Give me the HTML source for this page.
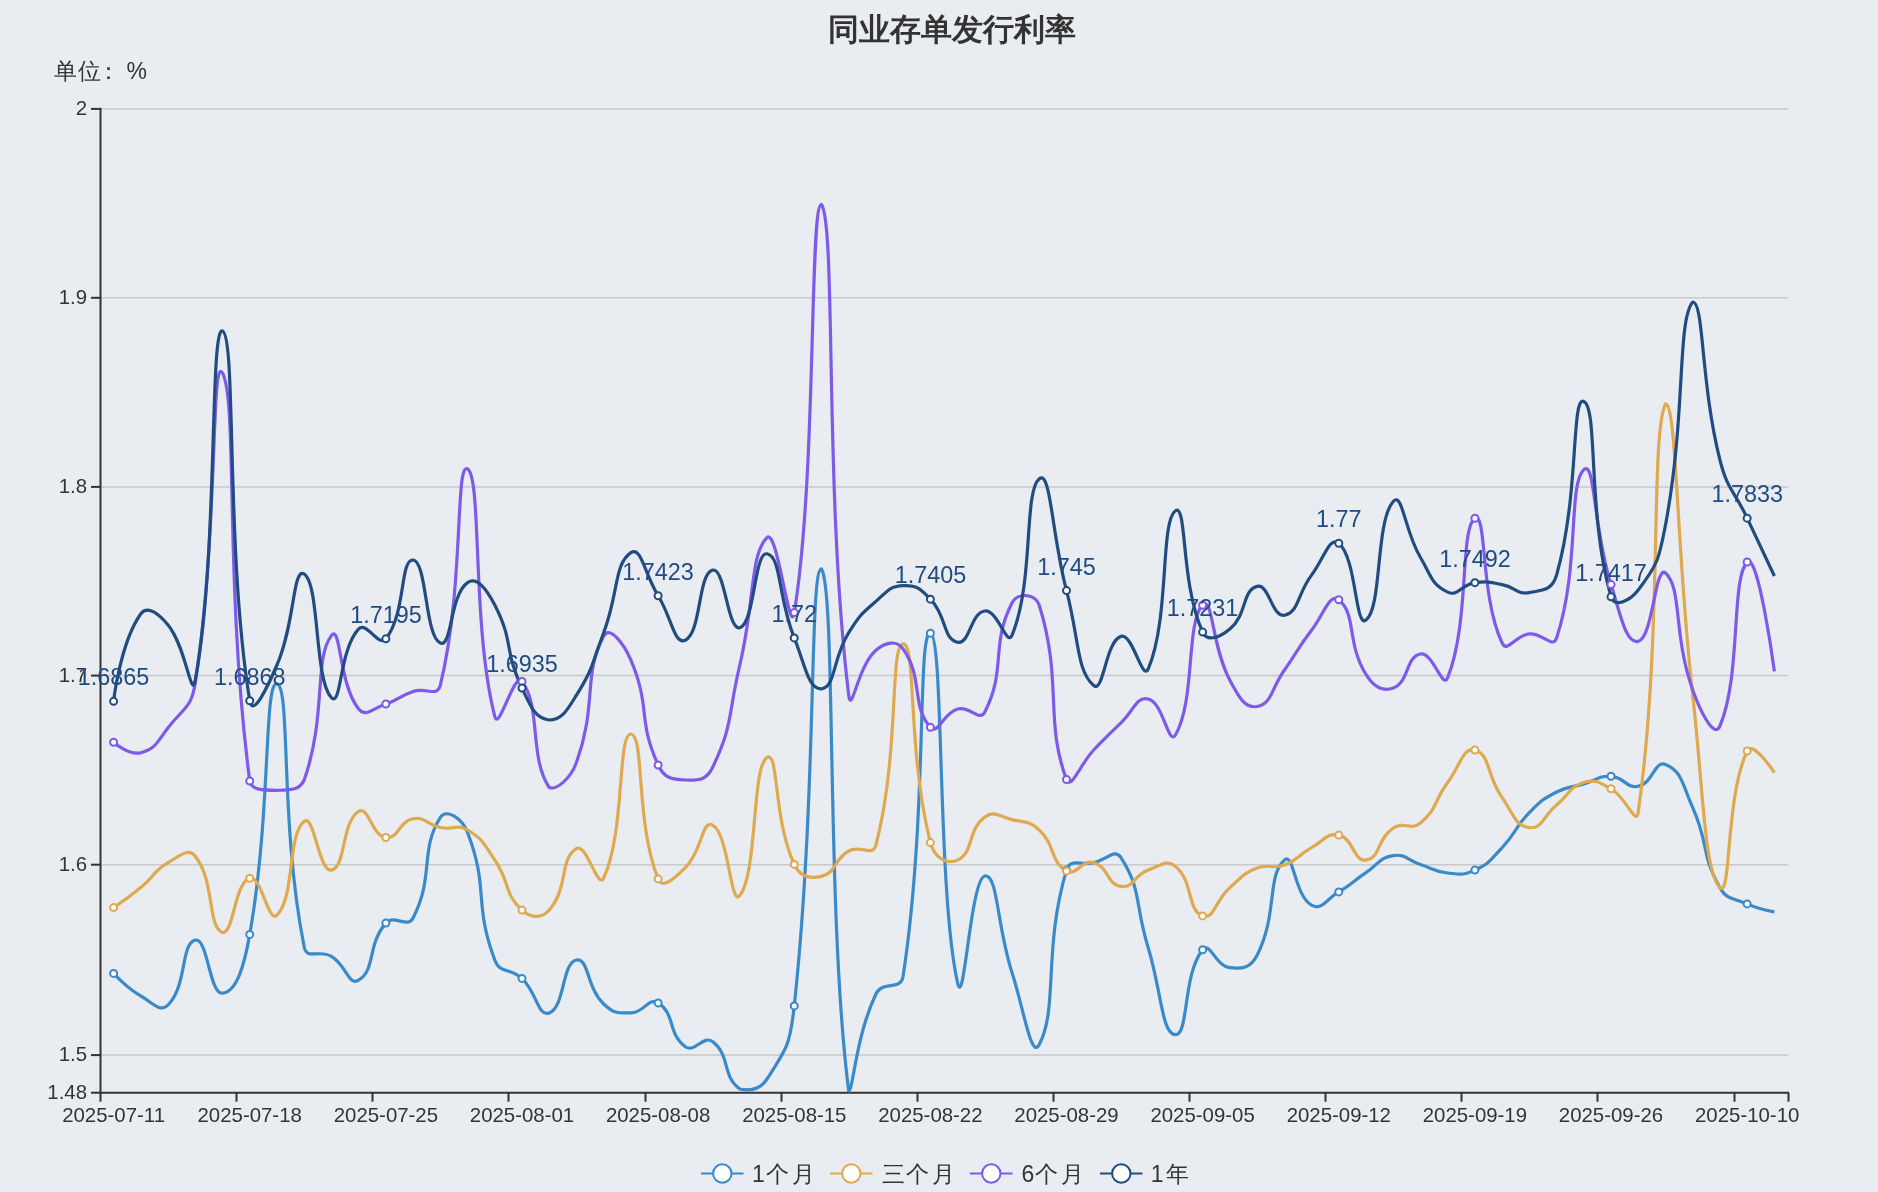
<!DOCTYPE html>
<html><head><meta charset="utf-8"><style>
html,body{margin:0;padding:0;background:#e9ecf1;width:1878px;height:1192px;overflow:hidden}
svg{display:block;will-change:transform;font-family:"Liberation Sans",sans-serif}
.ax{font-size:20.4px;fill:#333}
.lb{font-size:23.4px;fill:#214c80}
.lg{font-size:23px;fill:#333}
.tt{font-size:31px;font-weight:bold;fill:#333}
.un{font-size:23px;fill:#333}
</style></head><body>
<svg width="1878" height="1192" viewBox="0 0 1878 1192">
<text x="952" y="40" text-anchor="middle" class="tt">同业存单发行利率</text>
<text x="54 78 97 126.5" y="79" class="un">单位：%</text>
<line x1="100" y1="108.9" x2="1788" y2="108.9" stroke="#c9c9c9" stroke-width="1.5"/>
<line x1="100" y1="297.8" x2="1788" y2="297.8" stroke="#c9c9c9" stroke-width="1.5"/>
<line x1="100" y1="486.9" x2="1788" y2="486.9" stroke="#c9c9c9" stroke-width="1.5"/>
<line x1="100" y1="675.6" x2="1788" y2="675.6" stroke="#c9c9c9" stroke-width="1.5"/>
<line x1="100" y1="864.7" x2="1788" y2="864.7" stroke="#c9c9c9" stroke-width="1.5"/>
<line x1="100" y1="1055.1" x2="1788" y2="1055.1" stroke="#c9c9c9" stroke-width="1.5"/>
<line x1="91" y1="108.9" x2="100" y2="108.9" stroke="#333333" stroke-width="2"/>
<text x="87" y="114.9" text-anchor="end" class="ax">2</text>
<line x1="91" y1="297.8" x2="100" y2="297.8" stroke="#333333" stroke-width="2"/>
<text x="87" y="303.8" text-anchor="end" class="ax">1.9</text>
<line x1="91" y1="486.9" x2="100" y2="486.9" stroke="#333333" stroke-width="2"/>
<text x="87" y="492.9" text-anchor="end" class="ax">1.8</text>
<line x1="91" y1="675.6" x2="100" y2="675.6" stroke="#333333" stroke-width="2"/>
<text x="87" y="681.6" text-anchor="end" class="ax">1.7</text>
<line x1="91" y1="864.7" x2="100" y2="864.7" stroke="#333333" stroke-width="2"/>
<text x="87" y="870.7" text-anchor="end" class="ax">1.6</text>
<line x1="91" y1="1055.1" x2="100" y2="1055.1" stroke="#333333" stroke-width="2"/>
<text x="87" y="1061.1" text-anchor="end" class="ax">1.5</text>
<line x1="91" y1="1092.7" x2="100" y2="1092.7" stroke="#333333" stroke-width="2"/>
<text x="87" y="1098.7" text-anchor="end" class="ax">1.48</text>
<line x1="100.5" y1="107.8" x2="100.5" y2="1093.7" stroke="#333333" stroke-width="2"/>
<line x1="100" y1="1092.7" x2="1789" y2="1092.7" stroke="#333333" stroke-width="2"/>
<line x1="100.5" y1="1092.7" x2="100.5" y2="1101.7" stroke="#333333" stroke-width="2"/>
<text x="113.6" y="1122" text-anchor="middle" class="ax">2025-07-11</text>
<line x1="236.5" y1="1092.7" x2="236.5" y2="1101.7" stroke="#333333" stroke-width="2"/>
<text x="249.7" y="1122" text-anchor="middle" class="ax">2025-07-18</text>
<line x1="372.5" y1="1092.7" x2="372.5" y2="1101.7" stroke="#333333" stroke-width="2"/>
<text x="385.9" y="1122" text-anchor="middle" class="ax">2025-07-25</text>
<line x1="508.5" y1="1092.7" x2="508.5" y2="1101.7" stroke="#333333" stroke-width="2"/>
<text x="522.0" y="1122" text-anchor="middle" class="ax">2025-08-01</text>
<line x1="645.5" y1="1092.7" x2="645.5" y2="1101.7" stroke="#333333" stroke-width="2"/>
<text x="658.1" y="1122" text-anchor="middle" class="ax">2025-08-08</text>
<line x1="781.5" y1="1092.7" x2="781.5" y2="1101.7" stroke="#333333" stroke-width="2"/>
<text x="794.3" y="1122" text-anchor="middle" class="ax">2025-08-15</text>
<line x1="917.5" y1="1092.7" x2="917.5" y2="1101.7" stroke="#333333" stroke-width="2"/>
<text x="930.4" y="1122" text-anchor="middle" class="ax">2025-08-22</text>
<line x1="1053.5" y1="1092.7" x2="1053.5" y2="1101.7" stroke="#333333" stroke-width="2"/>
<text x="1066.5" y="1122" text-anchor="middle" class="ax">2025-08-29</text>
<line x1="1189.5" y1="1092.7" x2="1189.5" y2="1101.7" stroke="#333333" stroke-width="2"/>
<text x="1202.6" y="1122" text-anchor="middle" class="ax">2025-09-05</text>
<line x1="1325.5" y1="1092.7" x2="1325.5" y2="1101.7" stroke="#333333" stroke-width="2"/>
<text x="1338.8" y="1122" text-anchor="middle" class="ax">2025-09-12</text>
<line x1="1461.5" y1="1092.7" x2="1461.5" y2="1101.7" stroke="#333333" stroke-width="2"/>
<text x="1474.9" y="1122" text-anchor="middle" class="ax">2025-09-19</text>
<line x1="1597.5" y1="1092.7" x2="1597.5" y2="1101.7" stroke="#333333" stroke-width="2"/>
<text x="1611.0" y="1122" text-anchor="middle" class="ax">2025-09-26</text>
<line x1="1734.5" y1="1092.7" x2="1734.5" y2="1101.7" stroke="#333333" stroke-width="2"/>
<text x="1747.2" y="1122" text-anchor="middle" class="ax">2025-10-10</text>
<line x1="1788.5" y1="1092.7" x2="1788.5" y2="1101.7" stroke="#333333" stroke-width="2"/>
<path d="M113.61,973.40 C113.61,973.40 125.80,987.27 140.84,996.00 C153.03,1003.07 160.18,1013.09 168.06,1005.00 C187.41,985.14 180.56,943.29 195.29,940.10 C207.78,937.39 209.46,994.57 222.52,993.20 C236.69,991.72 244.17,966.03 249.74,934.40 C271.40,811.38 263.69,680.83 276.97,683.90 C290.91,687.13 279.64,824.13 304.19,947.00 C306.87,960.38 319.35,949.04 331.42,956.40 C346.57,965.64 348.74,986.26 358.65,980.20 C375.97,969.61 366.94,944.73 385.87,923.10 C394.16,913.63 407.38,929.09 413.10,918.00 C434.60,876.29 419.36,850.42 440.32,817.50 C446.58,807.67 462.31,818.78 467.55,832.50 C489.53,890.03 473.03,901.74 494.77,960.00 C500.25,974.69 510.36,967.07 522.00,978.40 C537.59,993.57 537.66,1016.91 549.23,1013.00 C564.88,1007.71 561.88,962.41 576.45,960.00 C589.11,957.91 586.15,986.97 603.68,1004.00 C613.38,1013.42 617.38,1013.17 630.90,1012.90 C644.60,1012.62 648.33,996.82 658.13,1002.90 C675.55,1013.72 667.64,1034.11 685.35,1046.70 C694.87,1053.46 703.42,1034.49 712.58,1041.60 C730.65,1055.64 722.02,1076.78 739.81,1089.00 C749.24,1091.00 759.65,1090.26 767.03,1079.00 C786.88,1048.71 790.14,1044.47 794.26,1005.90 C817.37,789.37 809.07,568.80 821.48,568.80 C836.30,591.96 825.88,912.74 848.71,1091.00 C853.11,1091.00 855.37,1037.43 875.94,994.00 C882.60,979.93 900.80,991.64 903.16,976.00 C928.03,811.24 916.91,631.47 930.39,633.20 C944.14,634.97 936.90,890.66 957.61,983.00 C964.13,1012.06 970.58,878.70 984.84,876.00 C997.81,873.55 996.63,924.95 1012.06,972.70 C1023.86,1009.20 1031.04,1060.05 1039.29,1044.50 C1058.26,1008.75 1043.05,948.51 1066.52,870.10 C1070.27,857.56 1079.99,865.76 1093.74,862.60 C1107.22,859.51 1114.78,847.93 1120.97,857.60 C1142.01,890.48 1134.36,902.72 1148.19,947.70 C1161.59,991.27 1161.66,1034.19 1175.42,1034.70 C1188.89,1035.19 1182.71,974.23 1202.65,949.70 C1209.94,940.73 1215.68,966.27 1229.87,967.70 C1242.90,969.02 1250.77,967.71 1257.10,955.20 C1277.99,913.91 1266.56,876.41 1284.32,860.10 C1293.78,851.41 1294.26,895.11 1311.55,905.20 C1321.49,911.01 1325.82,899.66 1338.77,891.90 C1353.04,883.36 1352.12,881.85 1366.00,872.60 C1379.35,863.70 1378.84,857.74 1393.23,855.60 C1406.06,853.69 1406.81,860.14 1420.45,864.50 C1434.04,868.84 1433.79,871.57 1447.68,873.00 C1461.01,874.37 1463.01,875.65 1474.90,870.10 C1490.24,862.95 1490.06,860.35 1502.13,847.60 C1517.28,831.60 1513.97,828.31 1529.35,812.60 C1541.20,800.51 1541.71,799.81 1556.58,792.00 C1568.94,785.51 1570.17,787.93 1583.81,784.00 C1597.40,780.08 1597.59,775.73 1611.03,776.30 C1624.81,776.88 1625.90,788.98 1638.26,786.30 C1653.12,783.08 1654.42,760.17 1665.48,764.50 C1681.65,770.82 1682.47,784.44 1692.71,807.60 C1709.69,845.99 1700.14,852.59 1719.94,887.60 C1727.37,900.74 1732.79,897.49 1747.16,903.90 C1760.01,909.64 1774.39,911.90 1774.39,911.90" fill="none" stroke="#3a89c9" stroke-width="3.2" stroke-linejoin="round"/>
<path d="M113.61,907.60 C113.61,907.60 127.84,898.34 140.84,887.60 C155.06,875.84 152.56,871.51 168.06,862.60 C179.79,855.86 188.31,847.32 195.29,856.30 C215.53,882.32 206.96,926.31 222.52,932.60 C234.18,932.60 234.22,883.29 249.74,878.30 C261.44,874.54 268.28,924.19 276.97,915.10 C295.51,895.69 286.88,835.61 304.19,821.30 C314.10,813.11 318.81,872.42 331.42,870.10 C346.04,867.42 341.45,821.60 358.65,811.30 C368.67,805.30 371.34,835.50 385.87,837.50 C398.57,839.25 398.50,821.48 413.10,818.80 C425.73,816.48 426.41,824.64 440.32,827.50 C453.63,830.24 456.58,823.45 467.55,830.00 C483.80,839.70 483.47,843.36 494.77,860.00 C510.69,883.41 503.57,893.18 522.00,910.10 C530.80,918.18 541.37,918.87 549.23,910.00 C568.60,888.12 559.40,858.62 576.45,848.60 C586.62,842.62 597.83,890.30 603.68,878.00 C625.06,833.00 617.33,733.78 630.90,734.00 C644.56,734.23 635.44,823.23 658.13,878.90 C662.67,890.03 675.32,877.52 685.35,867.60 C702.54,850.62 701.68,819.49 712.58,825.10 C728.90,833.49 730.30,907.41 739.81,895.60 C757.52,873.61 751.77,766.25 767.03,757.50 C778.99,750.65 772.82,817.58 794.26,864.40 C800.04,877.03 809.39,879.38 821.48,876.40 C836.62,872.68 833.14,859.98 848.71,851.00 C860.37,844.28 872.65,857.51 875.94,845.00 C899.87,753.96 889.47,644.50 903.16,643.90 C916.69,643.30 906.94,749.52 930.39,842.60 C934.17,857.62 947.04,865.07 957.61,860.10 C974.27,852.27 967.12,830.18 984.84,817.00 C994.35,809.93 998.89,816.43 1012.06,819.60 C1026.12,822.98 1029.13,820.53 1039.29,830.10 C1056.36,846.18 1049.29,860.62 1066.52,870.90 C1076.51,876.87 1081.75,859.19 1093.74,862.60 C1108.98,866.94 1106.47,884.40 1120.97,886.40 C1133.69,888.15 1133.60,875.46 1148.19,870.10 C1160.83,865.46 1166.51,858.91 1175.42,866.40 C1193.74,881.81 1186.58,909.65 1202.65,915.90 C1213.81,920.25 1215.18,900.50 1229.87,887.60 C1242.40,876.60 1242.12,874.29 1257.10,868.10 C1269.35,863.04 1271.84,869.80 1284.32,865.10 C1299.07,859.55 1297.41,855.39 1311.55,847.60 C1324.64,840.39 1326.59,832.30 1338.77,835.10 C1353.81,838.55 1353.27,861.76 1366.00,860.10 C1380.50,858.21 1376.80,839.19 1393.23,828.00 C1404.03,820.64 1410.60,831.23 1420.45,823.00 C1437.82,808.48 1433.11,802.03 1447.68,782.50 C1460.33,765.53 1463.03,746.71 1474.90,750.00 C1490.26,754.26 1486.47,775.29 1502.13,797.60 C1513.70,814.09 1514.81,825.60 1529.35,827.60 C1542.04,829.35 1542.98,816.36 1556.58,805.10 C1570.21,793.81 1568.59,787.05 1583.81,782.50 C1595.82,778.90 1599.09,782.33 1611.03,788.80 C1626.32,797.08 1636.07,827.48 1638.26,812.00 C1663.29,635.03 1649.61,437.95 1665.48,403.90 C1676.84,403.90 1676.35,549.87 1692.71,695.20 C1703.58,791.72 1704.08,871.35 1719.94,887.60 C1731.30,899.25 1725.37,797.02 1747.16,751.00 C1752.60,739.52 1774.39,772.60 1774.39,772.60" fill="none" stroke="#dfa94f" stroke-width="3.2" stroke-linejoin="round"/>
<path d="M113.61,742.20 C113.61,742.20 128.83,755.90 140.84,752.70 C156.05,748.65 156.83,742.15 168.06,727.70 C184.05,707.15 191.35,708.36 195.29,682.70 C218.58,531.01 210.76,351.77 222.52,373.00 C237.98,400.92 224.31,586.07 249.74,781.00 C251.53,790.30 263.43,790.30 276.97,790.30 C290.66,790.05 299.69,790.30 304.19,780.00 C326.92,715.44 313.66,658.76 331.42,635.60 C340.88,623.26 338.53,683.73 358.65,709.00 C365.76,717.93 372.81,708.22 385.87,704.00 C400.03,699.42 399.00,696.27 413.10,691.40 C426.22,686.87 437.23,697.83 440.32,685.20 C464.46,586.63 454.84,461.72 467.55,469.00 C482.06,477.32 471.67,626.26 494.77,716.40 C498.89,732.46 514.15,671.16 522.00,681.40 C541.38,706.71 528.87,757.18 549.23,787.50 C556.10,790.30 570.40,779.33 576.45,762.50 C597.63,703.58 582.43,675.91 603.68,636.00 C609.66,624.76 624.05,643.96 630.90,660.20 C651.28,708.46 636.98,718.46 658.13,765.00 C664.20,778.36 671.49,779.36 685.35,780.00 C698.72,780.61 706.58,780.16 712.58,767.50 C733.81,722.66 727.59,716.58 739.81,665.00 C754.81,601.63 750.15,553.85 767.03,537.60 C777.37,527.65 789.82,639.79 794.26,612.60 C817.04,473.14 809.11,204.30 821.48,204.30 C836.34,226.78 824.11,493.54 848.71,695.00 C851.33,716.49 858.02,665.33 875.94,650.20 C885.25,642.33 896.43,639.46 903.16,649.00 C923.65,678.01 910.88,705.81 930.39,727.30 C938.11,735.81 942.78,713.17 957.61,709.00 C970.00,705.52 979.51,722.40 984.84,712.00 C1006.74,669.25 990.16,645.67 1012.06,602.70 C1017.38,592.27 1035.64,593.34 1039.29,605.20 C1062.86,681.74 1044.34,720.52 1066.52,779.50 C1071.56,790.30 1079.84,764.47 1093.74,750.00 C1107.07,736.12 1106.93,735.95 1120.97,722.80 C1134.16,710.45 1136.08,696.29 1148.19,699.00 C1163.31,702.39 1168.51,746.91 1175.42,735.00 C1195.73,700.01 1185.65,622.31 1202.65,605.20 C1212.87,594.91 1211.41,645.85 1229.87,680.20 C1238.63,696.50 1244.71,708.77 1257.10,706.50 C1271.94,703.77 1271.15,688.66 1284.32,670.20 C1298.37,650.51 1296.78,649.30 1311.55,630.20 C1324.00,614.10 1329.54,592.29 1338.77,599.80 C1356.77,614.44 1346.30,642.59 1366.00,674.50 C1373.53,686.69 1382.04,692.21 1393.23,688.00 C1409.26,681.96 1405.56,656.82 1420.45,654.00 C1432.79,651.67 1442.71,690.08 1447.68,677.70 C1469.93,622.23 1459.69,528.00 1474.90,518.30 C1486.91,510.65 1479.90,595.81 1502.13,643.00 C1507.13,653.61 1515.46,635.18 1529.35,633.90 C1542.68,632.68 1552.80,649.42 1556.58,638.00 C1580.02,567.32 1567.72,485.47 1583.81,469.70 C1594.95,458.77 1593.28,528.61 1611.03,584.60 C1620.50,614.46 1625.70,644.07 1638.26,641.40 C1652.93,638.27 1655.14,563.77 1665.48,573.00 C1682.36,588.07 1672.92,634.39 1692.71,690.00 C1700.15,710.89 1714.12,739.67 1719.94,726.00 C1741.35,675.67 1730.94,578.27 1747.16,562.00 C1758.16,550.97 1774.39,671.40 1774.39,671.40" fill="none" stroke="#7d5ae8" stroke-width="3.2" stroke-linejoin="round"/>
<path d="M113.61,701.33 C113.61,701.33 120.23,642.69 140.84,613.80 C147.46,604.52 159.24,614.27 168.06,625.00 C186.46,647.37 191.23,701.93 195.29,680.00 C218.46,554.93 209.29,325.96 222.52,331.00 C236.52,336.34 225.46,551.82 249.74,700.76 C252.69,718.82 268.22,685.36 276.97,665.00 C295.45,621.98 292.53,566.99 304.19,574.00 C319.75,583.34 314.23,680.37 331.42,697.70 C341.46,707.82 339.08,650.03 358.65,628.90 C366.31,620.62 378.85,647.76 385.87,638.87 C406.08,613.31 399.80,558.99 413.10,560.00 C427.02,561.06 424.84,636.57 440.32,643.00 C452.07,647.87 449.78,595.00 467.55,582.60 C477.00,576.00 486.95,589.84 494.77,605.00 C514.18,642.58 503.60,649.23 522.00,688.08 C530.83,706.73 534.73,718.10 549.23,720.00 C561.95,720.00 566.90,710.51 576.45,695.20 C594.13,666.86 591.53,664.52 603.68,632.70 C618.75,593.22 613.92,564.14 630.90,552.60 C641.14,545.65 644.67,574.07 658.13,595.72 C671.89,617.87 674.21,645.45 685.35,640.20 C701.43,632.63 697.84,573.48 712.58,570.10 C725.07,567.23 727.63,631.34 739.81,627.70 C754.86,623.19 754.21,551.39 767.03,553.80 C781.43,556.50 777.78,597.08 794.26,637.93 C805.01,664.58 808.40,690.06 821.48,688.80 C835.62,687.44 832.36,658.94 848.71,632.70 C859.59,615.24 860.46,614.79 875.94,601.40 C887.68,591.24 889.31,586.18 903.16,585.60 C916.54,585.04 920.21,588.55 930.39,599.13 C947.44,616.85 942.59,638.93 957.61,642.20 C969.82,644.86 970.35,612.86 984.84,611.00 C997.58,609.36 1006.98,647.54 1012.06,635.20 C1034.21,581.44 1023.51,491.72 1039.29,478.80 C1050.73,469.43 1051.86,534.98 1066.52,590.61 C1079.09,638.33 1076.39,670.91 1093.74,685.50 C1103.61,693.80 1105.47,641.10 1120.97,636.40 C1132.69,632.85 1142.50,682.14 1148.19,669.00 C1169.72,619.34 1160.07,521.21 1175.42,510.80 C1187.30,502.74 1180.34,583.64 1202.65,632.06 C1207.56,642.74 1220.30,637.02 1229.87,629.00 C1247.53,614.19 1241.83,590.27 1257.10,586.40 C1269.06,583.37 1272.08,617.74 1284.32,615.20 C1299.30,612.09 1296.94,594.39 1311.55,575.10 C1324.17,558.44 1329.53,535.66 1338.77,543.30 C1356.76,558.16 1355.08,628.48 1366.00,620.10 C1382.31,607.58 1375.22,522.21 1393.23,501.50 C1402.44,490.91 1404.50,530.96 1420.45,557.50 C1431.73,576.26 1431.22,584.50 1447.68,592.10 C1458.45,597.08 1460.92,584.59 1474.90,582.66 C1488.15,580.84 1488.78,582.16 1502.13,584.60 C1516.01,587.13 1516.65,594.84 1529.35,592.60 C1543.87,590.04 1552.34,589.89 1556.58,575.00 C1579.57,494.29 1570.98,396.25 1583.81,401.40 C1598.21,407.18 1587.20,514.30 1611.03,596.86 C1614.42,608.60 1630.50,600.24 1638.26,590.00 C1657.73,564.31 1658.98,559.38 1665.48,525.00 C1686.21,415.38 1676.82,320.97 1692.71,302.00 C1704.05,302.00 1700.49,382.83 1719.94,460.00 C1727.72,490.89 1733.52,489.07 1747.16,518.13 C1760.75,547.07 1774.39,576.00 1774.39,576.00" fill="none" stroke="#214c80" stroke-width="3.2" stroke-linejoin="round"/>
<circle cx="113.61" cy="973.40" r="3.5" fill="#fff" stroke="#3a89c9" stroke-width="2"/>
<circle cx="249.74" cy="934.40" r="3.5" fill="#fff" stroke="#3a89c9" stroke-width="2"/>
<circle cx="385.87" cy="923.10" r="3.5" fill="#fff" stroke="#3a89c9" stroke-width="2"/>
<circle cx="522.00" cy="978.40" r="3.5" fill="#fff" stroke="#3a89c9" stroke-width="2"/>
<circle cx="658.13" cy="1002.90" r="3.5" fill="#fff" stroke="#3a89c9" stroke-width="2"/>
<circle cx="794.26" cy="1005.90" r="3.5" fill="#fff" stroke="#3a89c9" stroke-width="2"/>
<circle cx="930.39" cy="633.20" r="3.5" fill="#fff" stroke="#3a89c9" stroke-width="2"/>
<circle cx="1066.52" cy="870.10" r="3.5" fill="#fff" stroke="#3a89c9" stroke-width="2"/>
<circle cx="1202.65" cy="949.70" r="3.5" fill="#fff" stroke="#3a89c9" stroke-width="2"/>
<circle cx="1338.77" cy="891.90" r="3.5" fill="#fff" stroke="#3a89c9" stroke-width="2"/>
<circle cx="1474.90" cy="870.10" r="3.5" fill="#fff" stroke="#3a89c9" stroke-width="2"/>
<circle cx="1611.03" cy="776.30" r="3.5" fill="#fff" stroke="#3a89c9" stroke-width="2"/>
<circle cx="1747.16" cy="903.90" r="3.5" fill="#fff" stroke="#3a89c9" stroke-width="2"/>
<circle cx="113.61" cy="907.60" r="3.5" fill="#fff" stroke="#dfa94f" stroke-width="2"/>
<circle cx="249.74" cy="878.30" r="3.5" fill="#fff" stroke="#dfa94f" stroke-width="2"/>
<circle cx="385.87" cy="837.50" r="3.5" fill="#fff" stroke="#dfa94f" stroke-width="2"/>
<circle cx="522.00" cy="910.10" r="3.5" fill="#fff" stroke="#dfa94f" stroke-width="2"/>
<circle cx="658.13" cy="878.90" r="3.5" fill="#fff" stroke="#dfa94f" stroke-width="2"/>
<circle cx="794.26" cy="864.40" r="3.5" fill="#fff" stroke="#dfa94f" stroke-width="2"/>
<circle cx="930.39" cy="842.60" r="3.5" fill="#fff" stroke="#dfa94f" stroke-width="2"/>
<circle cx="1066.52" cy="870.90" r="3.5" fill="#fff" stroke="#dfa94f" stroke-width="2"/>
<circle cx="1202.65" cy="915.90" r="3.5" fill="#fff" stroke="#dfa94f" stroke-width="2"/>
<circle cx="1338.77" cy="835.10" r="3.5" fill="#fff" stroke="#dfa94f" stroke-width="2"/>
<circle cx="1474.90" cy="750.00" r="3.5" fill="#fff" stroke="#dfa94f" stroke-width="2"/>
<circle cx="1611.03" cy="788.80" r="3.5" fill="#fff" stroke="#dfa94f" stroke-width="2"/>
<circle cx="1747.16" cy="751.00" r="3.5" fill="#fff" stroke="#dfa94f" stroke-width="2"/>
<circle cx="113.61" cy="742.20" r="3.5" fill="#fff" stroke="#7d5ae8" stroke-width="2"/>
<circle cx="249.74" cy="781.00" r="3.5" fill="#fff" stroke="#7d5ae8" stroke-width="2"/>
<circle cx="385.87" cy="704.00" r="3.5" fill="#fff" stroke="#7d5ae8" stroke-width="2"/>
<circle cx="522.00" cy="681.40" r="3.5" fill="#fff" stroke="#7d5ae8" stroke-width="2"/>
<circle cx="658.13" cy="765.00" r="3.5" fill="#fff" stroke="#7d5ae8" stroke-width="2"/>
<circle cx="794.26" cy="612.60" r="3.5" fill="#fff" stroke="#7d5ae8" stroke-width="2"/>
<circle cx="930.39" cy="727.30" r="3.5" fill="#fff" stroke="#7d5ae8" stroke-width="2"/>
<circle cx="1066.52" cy="779.50" r="3.5" fill="#fff" stroke="#7d5ae8" stroke-width="2"/>
<circle cx="1202.65" cy="605.20" r="3.5" fill="#fff" stroke="#7d5ae8" stroke-width="2"/>
<circle cx="1338.77" cy="599.80" r="3.5" fill="#fff" stroke="#7d5ae8" stroke-width="2"/>
<circle cx="1474.90" cy="518.30" r="3.5" fill="#fff" stroke="#7d5ae8" stroke-width="2"/>
<circle cx="1611.03" cy="584.60" r="3.5" fill="#fff" stroke="#7d5ae8" stroke-width="2"/>
<circle cx="1747.16" cy="562.00" r="3.5" fill="#fff" stroke="#7d5ae8" stroke-width="2"/>
<circle cx="113.61" cy="701.33" r="3.5" fill="#fff" stroke="#214c80" stroke-width="2"/>
<circle cx="249.74" cy="700.76" r="3.5" fill="#fff" stroke="#214c80" stroke-width="2"/>
<circle cx="385.87" cy="638.87" r="3.5" fill="#fff" stroke="#214c80" stroke-width="2"/>
<circle cx="522.00" cy="688.08" r="3.5" fill="#fff" stroke="#214c80" stroke-width="2"/>
<circle cx="658.13" cy="595.72" r="3.5" fill="#fff" stroke="#214c80" stroke-width="2"/>
<circle cx="794.26" cy="637.93" r="3.5" fill="#fff" stroke="#214c80" stroke-width="2"/>
<circle cx="930.39" cy="599.13" r="3.5" fill="#fff" stroke="#214c80" stroke-width="2"/>
<circle cx="1066.52" cy="590.61" r="3.5" fill="#fff" stroke="#214c80" stroke-width="2"/>
<circle cx="1202.65" cy="632.06" r="3.5" fill="#fff" stroke="#214c80" stroke-width="2"/>
<circle cx="1338.77" cy="543.30" r="3.5" fill="#fff" stroke="#214c80" stroke-width="2"/>
<circle cx="1474.90" cy="582.66" r="3.5" fill="#fff" stroke="#214c80" stroke-width="2"/>
<circle cx="1611.03" cy="596.86" r="3.5" fill="#fff" stroke="#214c80" stroke-width="2"/>
<circle cx="1747.16" cy="518.13" r="3.5" fill="#fff" stroke="#214c80" stroke-width="2"/>
<text x="113.6" y="685.3" text-anchor="middle" class="lb">1.6865</text>
<text x="249.7" y="684.8" text-anchor="middle" class="lb">1.6868</text>
<text x="385.9" y="622.9" text-anchor="middle" class="lb">1.7195</text>
<text x="522.0" y="672.1" text-anchor="middle" class="lb">1.6935</text>
<text x="658.1" y="579.7" text-anchor="middle" class="lb">1.7423</text>
<text x="794.3" y="621.9" text-anchor="middle" class="lb">1.72</text>
<text x="930.4" y="583.1" text-anchor="middle" class="lb">1.7405</text>
<text x="1066.5" y="574.6" text-anchor="middle" class="lb">1.745</text>
<text x="1202.6" y="616.1" text-anchor="middle" class="lb">1.7231</text>
<text x="1338.8" y="527.3" text-anchor="middle" class="lb">1.77</text>
<text x="1474.9" y="566.7" text-anchor="middle" class="lb">1.7492</text>
<text x="1611.0" y="580.9" text-anchor="middle" class="lb">1.7417</text>
<text x="1747.2" y="502.1" text-anchor="middle" class="lb">1.7833</text>
<line x1="701" y1="1173.5" x2="743.5" y2="1173.5" stroke="#3a89c9" stroke-width="2"/>
<circle cx="722.3" cy="1173.5" r="9.2" fill="#fff" stroke="#3a89c9" stroke-width="2"/>
<text x="752.0 765.5 792.0" y="1181.5" class="lg">1个月</text>
<line x1="830" y1="1173.5" x2="872.5" y2="1173.5" stroke="#dfa94f" stroke-width="2"/>
<circle cx="851.3" cy="1173.5" r="9.2" fill="#fff" stroke="#dfa94f" stroke-width="2"/>
<text x="882.0 906.0 932.0" y="1181.5" class="lg">三个月</text>
<line x1="970" y1="1173.5" x2="1012.5" y2="1173.5" stroke="#7d5ae8" stroke-width="2"/>
<circle cx="991.3" cy="1173.5" r="9.2" fill="#fff" stroke="#7d5ae8" stroke-width="2"/>
<text x="1021.5 1034.5 1060.8" y="1181.5" class="lg">6个月</text>
<line x1="1100" y1="1173.5" x2="1142.5" y2="1173.5" stroke="#214c80" stroke-width="2"/>
<circle cx="1121.3" cy="1173.5" r="9.2" fill="#fff" stroke="#214c80" stroke-width="2"/>
<text x="1150.8 1165.5" y="1181.5" class="lg">1年</text>
</svg></body></html>
